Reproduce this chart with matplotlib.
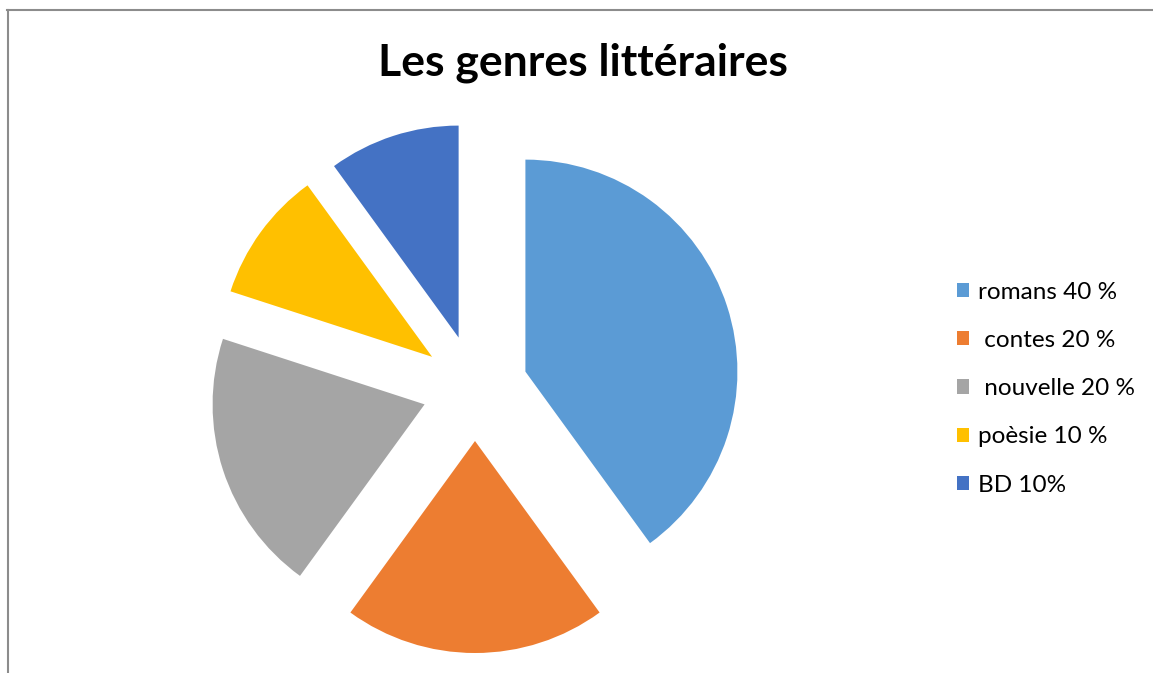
import matplotlib
matplotlib.use('Agg')
import matplotlib.pyplot as plt
from matplotlib.lines import Line2D

# Données du graphique
genres = ['romans 40 %', ' contes 20 %', ' nouvelle 20 %', 'poèsie 10 %', 'BD 10%']
parts = [40, 20, 20, 10, 10]
couleurs = ['#5B9BD5', '#ED7D31', '#A5A5A5', '#FFC000', '#4472C4']
eclatement = [0.25, 0.25, 0.25, 0.25, 0.25]

plt.rcParams['font.family'] = ['Lato', 'DejaVu Sans']

W, H = 1153, 673
fig = plt.figure(figsize=(W / 100, H / 100), dpi=100)
ax = fig.add_axes([0, 0, 1, 1])

# centre du camembert en pixels et rayon
cx, cy, r = 475, 388, 212
wedges, _ = ax.pie(parts, colors=couleurs, explode=eclatement, startangle=90,
                   counterclock=False, radius=1)
ax.set_xlim(-cx / r, (W - cx) / r)
ax.set_ylim((cy - H) / r, cy / r)
ax.set_aspect('auto')
ax.axis('off')

fig.text(583 / W, 1 - 63 / H, 'Les genres littéraires', ha='center', va='center',
         fontsize=32, fontweight='bold', color='black')

leg = fig.legend(wedges, genres, loc='upper left', bbox_to_anchor=(947 / W, 1 - 272 / H),
                 frameon=False, fontsize=17.5, handlelength=0.52, handleheight=0.52,
                 handletextpad=0.35, labelspacing=1.12, borderaxespad=0)

# cadre gris
fig.add_artist(Line2D([7 / W, 1], [1 - 9.5 / H, 1 - 9.5 / H], color='#8c8c8c', lw=1.5,
                      transform=fig.transFigure))
fig.add_artist(Line2D([7.5 / W, 7.5 / W], [0, 1 - 9.5 / H], color='#8c8c8c', lw=1.5,
                      transform=fig.transFigure))

fig.savefig('out.png', dpi=100)
